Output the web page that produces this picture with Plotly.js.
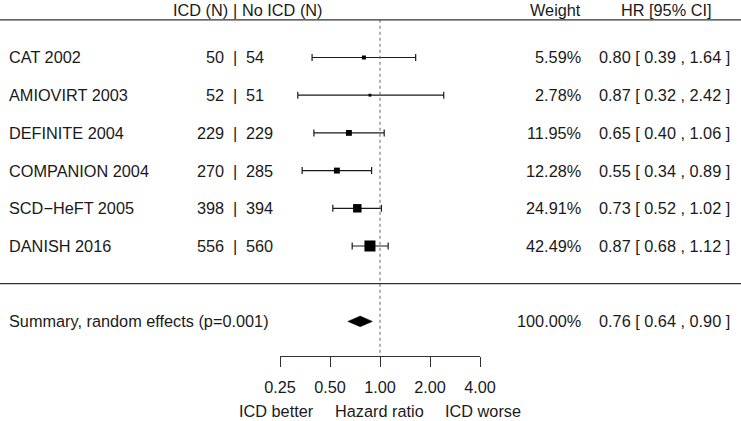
<!DOCTYPE html>
<html>
<head>
<meta charset="utf-8">
<script src="https://cdn.plot.ly/plotly-3.0.1.min.js"></script>
<style>html,body{margin:0;padding:0;background:#fff;}#chart{width:741px;height:421px;}</style>
</head>
<body>
<div id="chart"></div>
<script>
// ---- data ----
const studies = ["CAT 2002", "AMIOVIRT 2003", "DEFINITE 2004", "COMPANION 2004", "SCD\u2212HeFT 2005", "DANISH 2016"];
const nICD   = [50, 52, 229, 270, 398, 556];
const nNoICD = [54, 51, 229, 285, 394, 560];
const weight = [5.59, 2.78, 11.95, 12.28, 24.91, 42.49];
const hr     = [0.80, 0.87, 0.65, 0.55, 0.73, 0.87];
const ciLo   = [0.39, 0.32, 0.40, 0.34, 0.52, 0.68];
const ciHi   = [1.64, 2.42, 1.06, 0.89, 1.02, 1.12];
const summaryLabel = "Summary, random effects (p=0.001)";
const sumWeight = 100.00;
const sumHR = 0.76, sumLo = 0.64, sumHi = 0.90;
const tickVals = [0.25, 0.5, 1, 2, 4];
const tickText = ["0.25", "0.50", "1.00", "2.00", "4.00"];

// ---- layout helpers ----
const W = 741, H = 421;
const FONT = "Liberation Sans, Arial, Helvetica, sans-serif";
const FS = 16.3;
const TXT = "#1a1a1a";
const rows = studies.map((_, i) => i);
const sumRow = studies.length + 1;
const px = v => v / W;

const fmt = v => v.toFixed(2);
const hrText = (h, l, u) => `${fmt(h)} [ ${fmt(l)} , ${fmt(u)} ]`;

const traces = [];

// dotted reference line at HR = 1 (on axis x2)
traces.push({
  x: [1, 1], y: [-1, 7.92], xaxis: "x2", yaxis: "y",
  mode: "lines", line: {color: "#666", width: 1, dash: "dot"},
  hoverinfo: "skip", showlegend: false
});

// study CIs + squares
traces.push({
  x: hr, y: rows, xaxis: "x", yaxis: "y",
  mode: "markers",
  marker: {symbol: "square", color: "#000", opacity: 1, size: weight.map(w => 1.69 * Math.sqrt(w)), line: {width: 0}},
  error_x: {
    type: "data", symmetric: false,
    array: hr.map((h, i) => ciHi[i] - h),
    arrayminus: hr.map((h, i) => h - ciLo[i]),
    color: "#1a1a1a", thickness: 1.2, width: 3.5
  },
  hoverinfo: "skip", showlegend: false
});

// summary diamond
const dh = 0.14;
traces.push({
  x: [sumLo, sumHR, sumHi, sumHR, sumLo],
  y: [sumRow, sumRow - dh, sumRow, sumRow + dh, sumRow],
  xaxis: "x", yaxis: "y",
  mode: "lines", fill: "toself", fillcolor: "#000",
  line: {color: "#000", width: 0.5},
  hoverinfo: "skip", showlegend: false
});

const ann = [];
function addText(text, x, y, anchor, yref, yanchor) {
  ann.push({
    text: text, xref: "paper", yref: yref || "y", x: px(x), y: y,
    xanchor: anchor, yanchor: yanchor || "middle", showarrow: false,
    borderpad: 0,
    font: {family: FONT, size: FS, color: TXT}
  });
}

// headers (pinned to top edge)
addText("ICD (N)", 229, 1, "right", "paper", "top");
addText("|", 235, 1, "center", "paper", "top");
addText("No ICD (N)", 241, 1, "left", "paper", "top");
addText("Weight", 582, 1, "right", "paper", "top");
addText("HR [95% CI]", 666, 1, "center", "paper", "top");

// study rows
studies.forEach((s, i) => {
  addText(s, 8, i, "left");
  addText(String(nICD[i]), 225, i, "right");
  addText("|", 235, i, "center");
  addText(String(nNoICD[i]), 245, i, "left");
  addText(fmt(weight[i]) + "%", 582, i, "right");
  addText(hrText(hr[i], ciLo[i], ciHi[i]), 731, i, "right");
});

// summary row
addText(summaryLabel, 8, sumRow, "left");
addText(fmt(sumWeight) + "%", 582, sumRow, "right");
addText(hrText(sumHR, sumLo, sumHi), 731, sumRow, "right");

// bottom labels (pinned to bottom edge)
addText("ICD better", 276, 0, "center", "paper", "bottom");
addText("Hazard ratio", 380, 0, "center", "paper", "bottom");
addText("ICD worse", 483, 0, "center", "paper", "bottom");

const layout = {
  width: W, height: H,
  margin: {l: 0, r: 0, t: 0, b: 0, pad: 0},
  paper_bgcolor: "#fff", plot_bgcolor: "rgba(0,0,0,0)",
  showlegend: false,
  font: {family: FONT, size: FS, color: TXT},
  xaxis: {
    type: "log", range: [-2.28783, 2.17344], domain: [0, 1],
    visible: false, showgrid: false, zeroline: false, fixedrange: true
  },
  xaxis2: {
    type: "log", range: [Math.log10(0.25), Math.log10(4)],
    domain: [px(280), px(480)], anchor: "free", position: 1 - 356 / H,
    side: "bottom",
    showline: true, linecolor: "#333", linewidth: 1,
    ticks: "outside", ticklen: 10, tickwidth: 1, tickcolor: "#333",
    ticklabelstandoff: 6,
    tickmode: "array", tickvals: tickVals, ticktext: tickText,
    tickfont: {family: FONT, size: FS, color: TXT},
    showgrid: false, zeroline: false, fixedrange: true
  },
  yaxis: {
    range: [9.642, -1.525], domain: [0, 1],
    visible: false, showgrid: false, zeroline: false, fixedrange: true
  },
  shapes: [
    {type: "line", xref: "paper", yref: "y", x0: 0, x1: 1, y0: -1, y1: -1, line: {color: "#333", width: 1.2}},
    {type: "line", xref: "paper", yref: "y", x0: 0, x1: 1, y0: 6, y1: 6, line: {color: "#333", width: 1.2}}
  ],
  annotations: ann
};

Plotly.newPlot("chart", traces, layout, {displayModeBar: false, staticPlot: true});
</script>
</body>
</html>
